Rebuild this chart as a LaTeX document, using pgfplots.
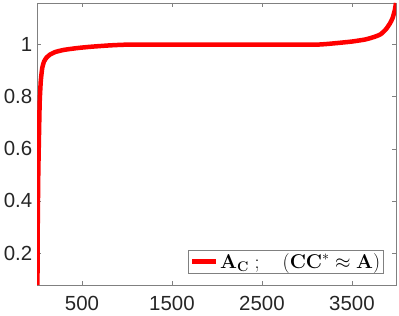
\RequirePackage{fix-cm}
\documentclass[border=0pt]{standalone}
\usepackage[no-math]{fontspec}
\setmainfont{Liberation Sans}
\usepackage{pgfplots}
\pgfplotsset{compat=1.18}
\definecolor{axgray}{RGB}{128,128,128}
\definecolor{txt}{RGB}{38,38,38}
\begin{document}
\begin{tikzpicture}[x=1bp,y=1bp]
\begin{axis}[
  scale only axis,
  width=359bp, height=282bp,
  xmin=0, xmax=3990, ymin=0.077, ymax=1.16,
  xtick={500,1500,2500,3500},
  ytick={0.2,0.4,0.6,0.8,1},
  yticklabels={0.2,0.4,0.6,0.8,1},
  xticklabels={500,1500,2500,3500},
  tick align=inside,
  major tick length=4bp,
  axis line style={axgray, line width=0.6bp},
  every tick/.style={axgray, line width=0.6bp},
  tick label style={font=\fontsize{20.5}{24}\selectfont, text=txt},
  /pgf/number format/assume math mode=true,
  xticklabel style={yshift=-8bp},
  yticklabel style={xshift=-1.3bp},
  legend style={at={(0.9666,0.0415)}, anchor=south east, draw=axgray, line width=0.6bp,
    font=\fontsize{20}{23}\selectfont, inner xsep=1.5bp, inner ysep=1.2bp, row sep=0pt},
  legend cell align=left,
  legend image code/.code={\draw[#1, line width=4.5bp] (0bp,0bp) -- (24bp,0bp);},
]
\addplot[red, line width=4.5bp, line join=round, smooth, tension=0.3] coordinates {
(5,0.077) (8,0.3) (14,0.5) (22,0.65) (30,0.78) (42,0.86) (58,0.91) (78,0.935)
(105,0.95) (145,0.962) (205,0.972) (300,0.98) (450,0.987) (600,0.992) (800,0.997)
(1000,1.0) (1500,1.0) (2000,1.0) (2500,1.0) (3100,1.0) (3300,1.005) (3500,1.012)
(3650,1.02) (3750,1.03) (3820,1.04) (3880,1.06) (3920,1.08) (3950,1.10) (3975,1.13) (3990,1.16)
};
\addlegendentry{$\mathbf{A}_{\mathbf{C}}\ ;\quad(\mathbf{CC}^{*}\approx\mathbf{A})$}
\end{axis}
\path ([shift={(-37bp,-31bp)}]current axis.south west) rectangle ([shift={(3bp,3bp)}]current axis.north east);
\end{tikzpicture}
\end{document}
